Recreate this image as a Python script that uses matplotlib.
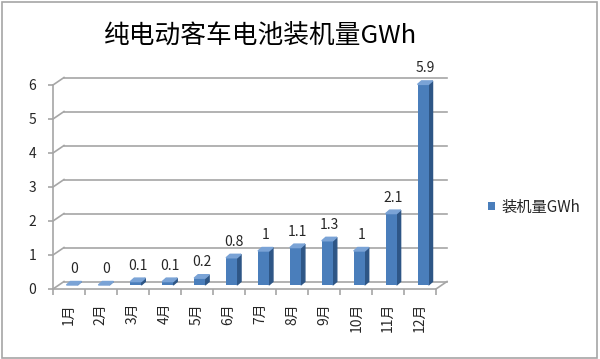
import matplotlib.pyplot as plt
import matplotlib.patches as mpatches
import numpy as np

plt.rcParams['font.family'] = ['Noto Sans CJK SC', 'DejaVu Sans']

# Donnees
mois = ['1月', '2月', '3月', '4月', '5月', '6月', '7月', '8月', '9月', '10月', '11月', '12月']
gwh = [0, 0, 0.1, 0.1, 0.2, 0.8, 1, 1.1, 1.3, 1, 2.1, 5.9]
titre = '纯电动客车电池装机量GWh'
serie = '装机量GWh'

# Style
grille = '#a6a6a6'
face = '#4a7ebb'
cote = '#2e5686'
dessus = '#7aa3d6'
texte = '#262626'

fig = plt.figure(figsize=(6, 3.59), dpi=100)
fig.patches.append(mpatches.Rectangle((0.004, 0.004), 0.991, 0.990, transform=fig.transFigure,
                                      fill=False, edgecolor='#a6a6a6', lw=1.2))
ax = fig.add_axes([53 / 600, 70 / 359, 383 / 600, 204 / 359])
ax.set_xlim(0, 12)
ax.set_ylim(0, 6)
for s in ['top', 'right']:
    ax.spines[s].set_visible(False)
for s in ['left', 'bottom']:
    ax.spines[s].set_color(grille)
    ax.spines[s].set_linewidth(1.2)

# profondeur du mur (en unites de donnees)
px_x = 383 / 12
px_y = 204 / 6
ddx, ddy = 11 / px_x, 7.5 / px_y

# mur du fond + arêtes gauche
for y in range(7):
    ax.plot([ddx, 12 + ddx], [y + ddy, y + ddy], color=grille, lw=1.2, clip_on=False, zorder=1)
    ax.plot([0, ddx], [y, y + ddy], color=grille, lw=1.2, clip_on=False, zorder=1)
ax.plot([12, 12 + ddx], [0, ddy], color=grille, lw=1.2, clip_on=False, zorder=1)

# barres 3D
w = 11 / px_x
bx, by = 3 / px_x, 4 / px_y
sdx, sdy = 4 / px_x, 3.5 / px_y
x = np.arange(len(mois)) + 0.5
x0 = x - w / 2 + bx
ax.bar(x0, gwh, width=w, bottom=by, align='edge', color=face, edgecolor='none',
       label=serie, zorder=3, clip_on=False)
for xi, v in zip(x0, gwh):
    ax.add_patch(mpatches.Polygon([(xi + w, by), (xi + w + sdx, by + sdy),
                                   (xi + w + sdx, by + v + sdy), (xi + w, by + v)],
                                  closed=True, color=cote, zorder=2, clip_on=False))
    ax.add_patch(mpatches.Polygon([(xi, by + v), (xi + w, by + v),
                                   (xi + w + sdx, by + v + sdy), (xi + sdx, by + v + sdy)],
                                  closed=True, color=dessus, zorder=4, clip_on=False))
    ax.annotate('{:g}'.format(v), (xi + w / 2 + sdx / 2, by + v + sdy), xytext=(0, 4),
                textcoords='offset points', ha='center', va='bottom', fontsize=10,
                color=texte, annotation_clip=False)

# axes
ax.set_yticks(range(7))
ax.tick_params(axis='y', length=3.5, width=1.2, color=grille, pad=8.5, labelsize=10,
               labelcolor=texte)
ax.set_xticks(x)
ax.set_xticklabels(mois, rotation=90)
ax.tick_params(axis='x', which='major', length=0, pad=10, labelsize=10, labelcolor=texte)
ax.set_xticks(np.arange(13), minor=True)
ax.tick_params(axis='x', which='minor', length=4, width=1.2, color=grille)

fig.text(261 / 600, 1 - 36 / 359, titre, ha='center', va='center', fontsize=18.5, color='black')
fig.legend(loc='center left', bbox_to_anchor=(474 / 600, 1 - 207 / 359), frameon=False,
           fontsize=11, handlelength=0.5, handleheight=0.5, handletextpad=0.4,
           labelcolor=texte)

fig.savefig('out.png', dpi=100)
